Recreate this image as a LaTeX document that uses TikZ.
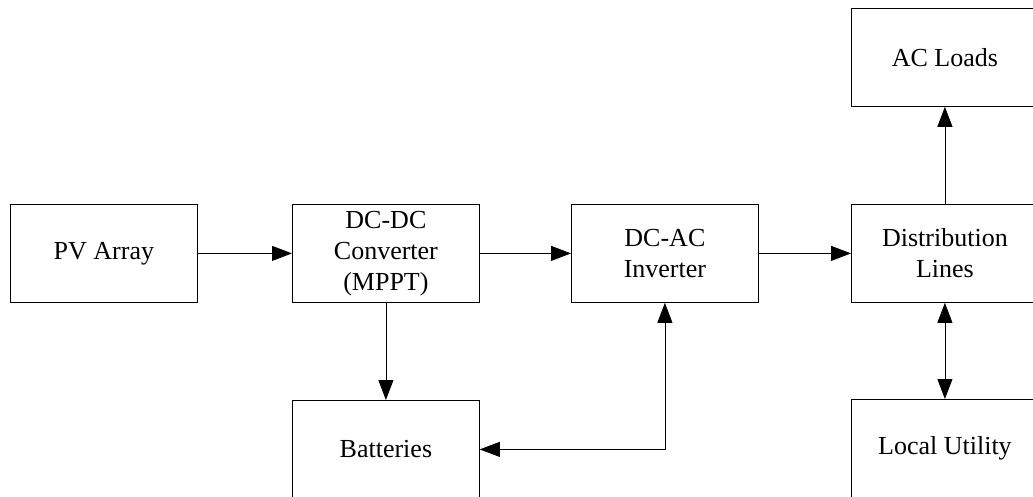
\documentclass[tikz,border=0pt]{standalone}
\usepackage{fontspec}
\setmainfont{Liberation Serif}
\usetikzlibrary{arrows.meta}

\begin{document}
\begin{tikzpicture}[x=1pt, y=-1pt]
  % Sizes
  \def\bw{187pt}
  \def\bh{98pt}
  %
  \tikzset{
    blk/.style={draw, line width=0.8pt, minimum width=\bw, minimum height=\bh, inner sep=2pt,
                align=center, anchor=north west, font=\fontsize{26}{31}\selectfont},
    flow/.style={line width=0.8pt, -{Triangle[length=20pt, width=15pt]}},
    bflow/.style={line width=0.8pt, {Triangle[length=20pt, width=15pt]}-{Triangle[length=20pt, width=15pt]}},
  }
  %
  \clip (0,0) rectangle (1033,497);
  %
  %%% MAIN ROW %%%
  \node[blk] (pv)   at (10, 204)  {PV Array};
  \node[blk] (dcdc) at (292, 204) {DC-DC\\Converter\\(MPPT)};
  \node[blk] (dcac) at (571, 204) {DC-AC\\Inverter};
  \node[blk] (dist) at (851, 204) {Distribution\\Lines};
  %
  %%% OTHER BOXES %%%
  \node[blk] (load) at (851, 8)   {AC Loads};
  \node[blk] (bat)  at (292, 400) {Batteries};
  \node[blk] (util) at (851, 399) {Local Utility};
  %
  % Arrows
  \draw[flow] (pv) -- (dcdc);
  \draw[flow] (dcdc) -- (dcac);
  \draw[flow] (dcac) -- (dist);
  \draw[flow] (dist) -- (load);
  \draw[flow] (dcdc) -- (bat);
  \draw[bflow] (bat.east) -| (dcac.south);
  \draw[bflow] (dist) -- (util);
\end{tikzpicture}
\end{document}
